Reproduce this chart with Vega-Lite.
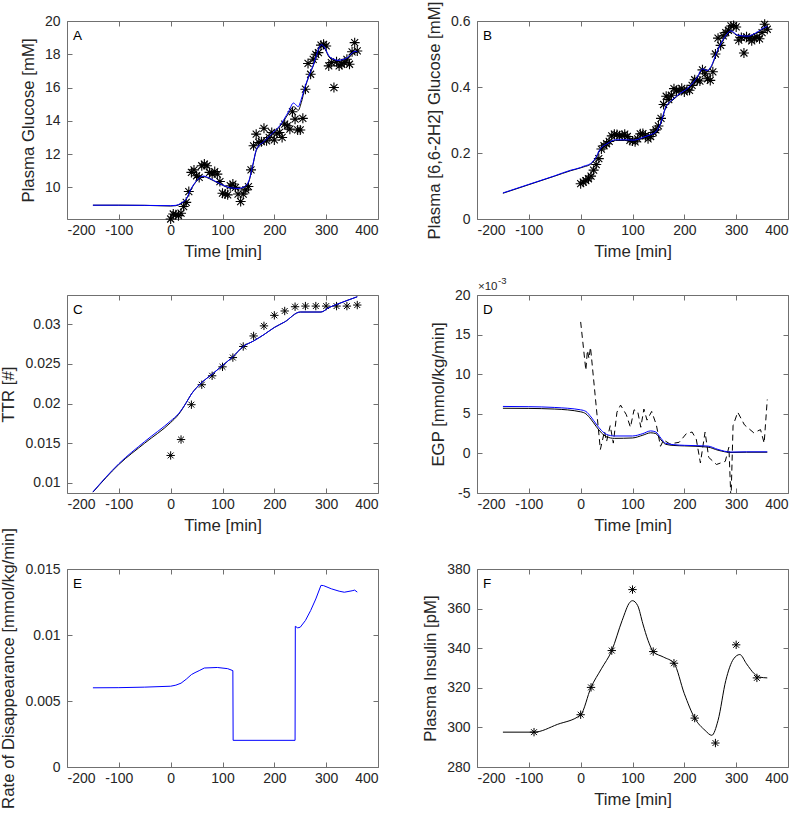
{
  "$schema": "https://vega.github.io/schema/vega-lite/v6.json",
  "padding": {"left": 0, "top": 0, "right": 5, "bottom": 5},
  "background": "white",
  "bounds": "flush",
  "columns": 2,
  "spacing": {"row": 76, "column": 99},
  "config": {
    "font": "Liberation Sans",
    "view": {"stroke": "#707070", "strokeWidth": 1},
    "axis": {
      "labelFont": "Liberation Sans", "labelFontSize": 14, "labelColor": "#262626",
      "titleFont": "Liberation Sans", "titleFontSize": 16.8, "titleFontWeight": "normal", "titleColor": "#262626",
      "grid": false, "domain": false, "tickColor": "#707070", "tickSize": -5, "tickWidth": 1
    },
    "axisX": {"labelPadding": 9, "titlePadding": 6},
    "axisY": {"labelPadding": 12, "titlePadding": 7}
  },
  "datasets": {
    "aFit": [
      {"t":-150,"v":8.93,"s":"M2"},{"t":-100,"v":8.93,"s":"M2"},{"t":-50,"v":8.92,"s":"M2"},{"t":0,"v":8.88,"s":"M2"},{"t":10,"v":8.9,"s":"M2"},{"t":20,"v":9.02,"s":"M2"},{"t":30,"v":9.28,"s":"M2"},{"t":40,"v":9.92,"s":"M2"},{"t":50,"v":10.37,"s":"M2"},{"t":63,"v":10.65,"s":"M2"},{"t":75,"v":10.52,"s":"M2"},{"t":95,"v":10.2,"s":"M2"},{"t":115,"v":9.95,"s":"M2"},{"t":130,"v":9.9,"s":"M2"},{"t":140,"v":9.96,"s":"M2"},{"t":150,"v":10.28,"s":"M2"},{"t":158,"v":11.25,"s":"M2"},{"t":166,"v":12.28,"s":"M2"},{"t":180,"v":12.72,"s":"M2"},{"t":192,"v":13.1,"s":"M2"},{"t":211,"v":13.68,"s":"M2"},{"t":227,"v":14.42,"s":"M2"},{"t":237,"v":14.85,"s":"M2"},{"t":242,"v":14.75,"s":"M2"},{"t":246,"v":14.62,"s":"M2"},{"t":252,"v":15.1,"s":"M2"},{"t":259,"v":15.95,"s":"M2"},{"t":275,"v":17.3,"s":"M2"},{"t":291,"v":18.5,"s":"M2"},{"t":296,"v":18.4,"s":"M2"},{"t":307,"v":17.78,"s":"M2"},{"t":323,"v":17.58,"s":"M2"},{"t":340,"v":17.72,"s":"M2"},{"t":356,"v":18.12,"s":"M2"},{"t":360,"v":18.1,"s":"M2"},
      {"t":-150,"v":8.93,"s":"M1"},{"t":-100,"v":8.93,"s":"M1"},{"t":-50,"v":8.92,"s":"M1"},{"t":0,"v":8.9,"s":"M1"},{"t":10,"v":8.92,"s":"M1"},{"t":20,"v":9.05,"s":"M1"},{"t":30,"v":9.3,"s":"M1"},{"t":40,"v":9.95,"s":"M1"},{"t":50,"v":10.4,"s":"M1"},{"t":63,"v":10.68,"s":"M1"},{"t":75,"v":10.55,"s":"M1"},{"t":95,"v":10.22,"s":"M1"},{"t":115,"v":9.98,"s":"M1"},{"t":130,"v":9.94,"s":"M1"},{"t":140,"v":10.0,"s":"M1"},{"t":150,"v":10.32,"s":"M1"},{"t":158,"v":11.3,"s":"M1"},{"t":166,"v":12.33,"s":"M1"},{"t":180,"v":12.75,"s":"M1"},{"t":192,"v":13.13,"s":"M1"},{"t":211,"v":13.73,"s":"M1"},{"t":227,"v":14.53,"s":"M1"},{"t":237,"v":15.07,"s":"M1"},{"t":242,"v":14.95,"s":"M1"},{"t":246,"v":14.85,"s":"M1"},{"t":252,"v":15.3,"s":"M1"},{"t":259,"v":16.03,"s":"M1"},{"t":275,"v":17.34,"s":"M1"},{"t":291,"v":18.58,"s":"M1"},{"t":296,"v":18.45,"s":"M1"},{"t":307,"v":17.84,"s":"M1"},{"t":323,"v":17.64,"s":"M1"},{"t":340,"v":17.78,"s":"M1"},{"t":356,"v":18.18,"s":"M1"},{"t":360,"v":18.15,"s":"M1"}
    ],
    "aObs": [
      {"t":0,"v":8.1},{"t":5,"v":8.4},{"t":10,"v":8.35},{"t":15,"v":8.3},{"t":20,"v":8.45},{"t":25,"v":8.85},{"t":30,"v":9.1},{"t":35,"v":9.75},{"t":40,"v":10.9},{"t":45,"v":11.05},{"t":50,"v":10.7},{"t":55,"v":10.6},{"t":60,"v":11.3},{"t":65,"v":11.4},{"t":70,"v":11.3},{"t":75,"v":10.9},{"t":80,"v":10.8},{"t":85,"v":10.95},{"t":90,"v":10.8},{"t":95,"v":10.35},{"t":100,"v":9.65},{"t":105,"v":9.6},{"t":110,"v":9.55},{"t":115,"v":10.1},{"t":120,"v":10.2},{"t":125,"v":10.0},{"t":130,"v":9.6},{"t":135,"v":9.15},{"t":140,"v":9.6},{"t":145,"v":9.85},{"t":150,"v":10.05},{"t":155,"v":11.05},{"t":160,"v":12.5},{"t":165,"v":13.2},{"t":170,"v":12.7},{"t":175,"v":12.75},{"t":180,"v":13.55},{"t":185,"v":12.8},{"t":190,"v":13.0},{"t":195,"v":13.3},{"t":200,"v":12.85},{"t":205,"v":13.25},{"t":210,"v":13.3},{"t":215,"v":13.0},{"t":220,"v":13.8},{"t":225,"v":13.7},{"t":230,"v":13.5},{"t":235,"v":14.55},{"t":240,"v":14.1},{"t":245,"v":13.45},{"t":250,"v":13.45},{"t":255,"v":14.15},{"t":260,"v":15.9},{"t":265,"v":17.45},{"t":270,"v":16.8},{"t":275,"v":17.7},{"t":280,"v":18.0},{"t":285,"v":18.1},{"t":290,"v":18.55},{"t":295,"v":18.6},{"t":300,"v":18.5},{"t":305,"v":17.3},{"t":310,"v":17.5},{"t":315,"v":16.0},{"t":320,"v":17.55},{"t":325,"v":17.3},{"t":330,"v":17.4},{"t":335,"v":17.5},{"t":340,"v":17.7},{"t":345,"v":17.4},{"t":350,"v":18.15},{"t":355,"v":18.7},{"t":360,"v":18.2}
    ],
    "bFit": [
      {"t":-150,"v":0.078,"s":"M2"},{"t":-100,"v":0.104,"s":"M2"},{"t":-50,"v":0.13,"s":"M2"},{"t":-20,"v":0.146,"s":"M2"},{"t":0,"v":0.155,"s":"M2"},{"t":6,"v":0.158,"s":"M2"},{"t":19,"v":0.166,"s":"M2"},{"t":28,"v":0.181,"s":"M2"},{"t":38,"v":0.211,"s":"M2"},{"t":51,"v":0.226,"s":"M2"},{"t":67,"v":0.238,"s":"M2"},{"t":85,"v":0.238,"s":"M2"},{"t":103,"v":0.237,"s":"M2"},{"t":120,"v":0.245,"s":"M2"},{"t":132,"v":0.252,"s":"M2"},{"t":145,"v":0.262,"s":"M2"},{"t":154,"v":0.287,"s":"M2"},{"t":164,"v":0.337,"s":"M2"},{"t":176,"v":0.358,"s":"M2"},{"t":187,"v":0.373,"s":"M2"},{"t":209,"v":0.398,"s":"M2"},{"t":225,"v":0.428,"s":"M2"},{"t":235,"v":0.452,"s":"M2"},{"t":244,"v":0.447,"s":"M2"},{"t":251,"v":0.458,"s":"M2"},{"t":264,"v":0.509,"s":"M2"},{"t":278,"v":0.549,"s":"M2"},{"t":290,"v":0.568,"s":"M2"},{"t":303,"v":0.555,"s":"M2"},{"t":322,"v":0.552,"s":"M2"},{"t":338,"v":0.562,"s":"M2"},{"t":357,"v":0.58,"s":"M2"},{"t":360,"v":0.581,"s":"M2"},
      {"t":-150,"v":0.079,"s":"M1"},{"t":-100,"v":0.105,"s":"M1"},{"t":-50,"v":0.131,"s":"M1"},{"t":-20,"v":0.1475,"s":"M1"},{"t":0,"v":0.156,"s":"M1"},{"t":6,"v":0.16,"s":"M1"},{"t":19,"v":0.168,"s":"M1"},{"t":28,"v":0.183,"s":"M1"},{"t":38,"v":0.213,"s":"M1"},{"t":51,"v":0.228,"s":"M1"},{"t":67,"v":0.24,"s":"M1"},{"t":85,"v":0.24,"s":"M1"},{"t":103,"v":0.239,"s":"M1"},{"t":120,"v":0.247,"s":"M1"},{"t":132,"v":0.254,"s":"M1"},{"t":145,"v":0.264,"s":"M1"},{"t":154,"v":0.289,"s":"M1"},{"t":164,"v":0.339,"s":"M1"},{"t":176,"v":0.36,"s":"M1"},{"t":187,"v":0.375,"s":"M1"},{"t":209,"v":0.4,"s":"M1"},{"t":225,"v":0.43,"s":"M1"},{"t":235,"v":0.455,"s":"M1"},{"t":244,"v":0.45,"s":"M1"},{"t":251,"v":0.461,"s":"M1"},{"t":264,"v":0.511,"s":"M1"},{"t":278,"v":0.551,"s":"M1"},{"t":290,"v":0.57,"s":"M1"},{"t":303,"v":0.557,"s":"M1"},{"t":322,"v":0.554,"s":"M1"},{"t":338,"v":0.564,"s":"M1"},{"t":357,"v":0.582,"s":"M1"},{"t":360,"v":0.583,"s":"M1"}
    ],
    "bObs": [
      {"t":0,"v":0.107},{"t":5,"v":0.112},{"t":10,"v":0.116},{"t":15,"v":0.122},{"t":20,"v":0.13},{"t":25,"v":0.148},{"t":30,"v":0.165},{"t":35,"v":0.183},{"t":40,"v":0.212},{"t":45,"v":0.222},{"t":50,"v":0.228},{"t":55,"v":0.235},{"t":60,"v":0.252},{"t":65,"v":0.257},{"t":70,"v":0.256},{"t":75,"v":0.252},{"t":80,"v":0.253},{"t":85,"v":0.257},{"t":90,"v":0.25},{"t":95,"v":0.238},{"t":100,"v":0.236},{"t":105,"v":0.234},{"t":110,"v":0.243},{"t":115,"v":0.258},{"t":120,"v":0.259},{"t":125,"v":0.252},{"t":130,"v":0.243},{"t":135,"v":0.25},{"t":140,"v":0.262},{"t":145,"v":0.27},{"t":150,"v":0.282},{"t":155,"v":0.305},{"t":160,"v":0.347},{"t":165,"v":0.372},{"t":170,"v":0.362},{"t":175,"v":0.375},{"t":180,"v":0.395},{"t":185,"v":0.388},{"t":190,"v":0.39},{"t":195,"v":0.396},{"t":200,"v":0.385},{"t":205,"v":0.392},{"t":210,"v":0.39},{"t":215,"v":0.405},{"t":220,"v":0.422},{"t":225,"v":0.42},{"t":230,"v":0.418},{"t":235,"v":0.452},{"t":240,"v":0.44},{"t":245,"v":0.425},{"t":250,"v":0.42},{"t":255,"v":0.446},{"t":260,"v":0.5},{"t":265,"v":0.548},{"t":270,"v":0.526},{"t":275,"v":0.555},{"t":280,"v":0.565},{"t":285,"v":0.572},{"t":290,"v":0.585},{"t":295,"v":0.586},{"t":300,"v":0.582},{"t":305,"v":0.542},{"t":310,"v":0.55},{"t":315,"v":0.503},{"t":320,"v":0.552},{"t":325,"v":0.546},{"t":330,"v":0.54},{"t":335,"v":0.548},{"t":340,"v":0.552},{"t":345,"v":0.546},{"t":350,"v":0.565},{"t":355,"v":0.59},{"t":360,"v":0.575}
    ],
    "cFit": [
      {"t":-150,"v":0.0088,"s":"M2"},{"t":-100,"v":0.0123,"s":"M2"},{"t":-50,"v":0.015,"s":"M2"},{"t":0,"v":0.0176,"s":"M2"},{"t":15,"v":0.0186,"s":"M2"},{"t":30,"v":0.0201,"s":"M2"},{"t":40,"v":0.0212,"s":"M2"},{"t":50,"v":0.022,"s":"M2"},{"t":60,"v":0.02266,"s":"M2"},{"t":80,"v":0.0237,"s":"M2"},{"t":100,"v":0.0248,"s":"M2"},{"t":120,"v":0.0259,"s":"M2"},{"t":140,"v":0.0272,"s":"M2"},{"t":160,"v":0.0279,"s":"M2"},{"t":180,"v":0.0287,"s":"M2"},{"t":200,"v":0.0296,"s":"M2"},{"t":220,"v":0.0303,"s":"M2"},{"t":250,"v":0.03155,"s":"M2"},{"t":290,"v":0.03155,"s":"M2"},{"t":305,"v":0.0321,"s":"M2"},{"t":320,"v":0.0325,"s":"M2"},{"t":340,"v":0.033,"s":"M2"},{"t":360,"v":0.03348,"s":"M2"},
      {"t":-150,"v":0.00885,"s":"M1"},{"t":-100,"v":0.0124,"s":"M1"},{"t":-50,"v":0.0152,"s":"M1"},{"t":0,"v":0.0178,"s":"M1"},{"t":15,"v":0.0187,"s":"M1"},{"t":30,"v":0.0201,"s":"M1"},{"t":40,"v":0.0212,"s":"M1"},{"t":50,"v":0.022,"s":"M1"},{"t":60,"v":0.02266,"s":"M1"},{"t":80,"v":0.0237,"s":"M1"},{"t":100,"v":0.0248,"s":"M1"},{"t":120,"v":0.0259,"s":"M1"},{"t":140,"v":0.0272,"s":"M1"},{"t":160,"v":0.0279,"s":"M1"},{"t":180,"v":0.0287,"s":"M1"},{"t":200,"v":0.0296,"s":"M1"},{"t":220,"v":0.0303,"s":"M1"},{"t":250,"v":0.03155,"s":"M1"},{"t":290,"v":0.03155,"s":"M1"},{"t":305,"v":0.0321,"s":"M1"},{"t":320,"v":0.0325,"s":"M1"},{"t":340,"v":0.033,"s":"M1"},{"t":360,"v":0.03348,"s":"M1"}
    ],
    "cObs": [
      {"t":0,"v":0.01344},{"t":20,"v":0.01545},{"t":40,"v":0.01985},{"t":60,"v":0.02237},{"t":80,"v":0.0235},{"t":100,"v":0.02463},{"t":120,"v":0.0258},{"t":140,"v":0.0272},{"t":160,"v":0.02853},{"t":180,"v":0.0298},{"t":200,"v":0.03113},{"t":220,"v":0.03168},{"t":240,"v":0.03222},{"t":260,"v":0.0323},{"t":280,"v":0.0323},{"t":300,"v":0.0323},{"t":320,"v":0.0323},{"t":340,"v":0.0323},{"t":360,"v":0.03243}
    ],
    "dFit": [
      {"t":-150,"v":0.0057,"s":"M2"},{"t":-100,"v":0.00568,"s":"M2"},{"t":-50,"v":0.0056,"s":"M2"},{"t":0,"v":0.00525,"s":"M2"},{"t":10,"v":0.005,"s":"M2"},{"t":20,"v":0.0043,"s":"M2"},{"t":30,"v":0.0034,"s":"M2"},{"t":40,"v":0.0026,"s":"M2"},{"t":50,"v":0.0021,"s":"M2"},{"t":65,"v":0.0019,"s":"M2"},{"t":100,"v":0.00195,"s":"M2"},{"t":120,"v":0.0023,"s":"M2"},{"t":135,"v":0.0026,"s":"M2"},{"t":145,"v":0.0025,"s":"M2"},{"t":155,"v":0.0017,"s":"M2"},{"t":164,"v":0.00115,"s":"M2"},{"t":180,"v":0.001,"s":"M2"},{"t":200,"v":0.00095,"s":"M2"},{"t":245,"v":0.0008,"s":"M2"},{"t":265,"v":0.0004,"s":"M2"},{"t":290,"v":0.00012,"s":"M2"},{"t":320,"v":0.00015,"s":"M2"},{"t":360,"v":0.00015,"s":"M2"},
      {"t":-150,"v":0.00593,"s":"M1"},{"t":-100,"v":0.0059,"s":"M1"},{"t":-50,"v":0.0058,"s":"M1"},{"t":0,"v":0.0055,"s":"M1"},{"t":10,"v":0.0053,"s":"M1"},{"t":20,"v":0.0046,"s":"M1"},{"t":30,"v":0.0037,"s":"M1"},{"t":40,"v":0.0029,"s":"M1"},{"t":50,"v":0.0024,"s":"M1"},{"t":65,"v":0.0022,"s":"M1"},{"t":100,"v":0.0022,"s":"M1"},{"t":120,"v":0.0025,"s":"M1"},{"t":135,"v":0.00284,"s":"M1"},{"t":145,"v":0.0027,"s":"M1"},{"t":155,"v":0.0019,"s":"M1"},{"t":164,"v":0.00127,"s":"M1"},{"t":180,"v":0.0011,"s":"M1"},{"t":200,"v":0.00102,"s":"M1"},{"t":245,"v":0.00093,"s":"M1"},{"t":265,"v":0.0005,"s":"M1"},{"t":290,"v":0.00017,"s":"M1"},{"t":320,"v":0.0002,"s":"M1"},{"t":360,"v":0.0002,"s":"M1"}
    ],
    "dEst": [
      {"t":0,"v":0.0166},{"t":10,"v":0.0105},{"t":13,"v":0.013},{"t":16,"v":0.012},{"t":19,"v":0.0134},{"t":38,"v":0.0005},{"t":46,"v":0.0028},{"t":50,"v":0.0015},{"t":57,"v":0.0035},{"t":63,"v":0.0013},{"t":70,"v":0.0052},{"t":77,"v":0.0061},{"t":88,"v":0.0049},{"t":96,"v":0.0033},{"t":103,"v":0.0055},{"t":110,"v":0.0053},{"t":116,"v":0.0033},{"t":122,"v":0.0056},{"t":128,"v":0.0042},{"t":137,"v":0.0053},{"t":146,"v":0.0036},{"t":154,"v":0.0009},{"t":160,"v":0.0017},{"t":172,"v":0.0012},{"t":190,"v":0.0014},{"t":204,"v":0.0025},{"t":215,"v":0.0027},{"t":223,"v":0.0018},{"t":231,"v":-0.0012},{"t":240,"v":0.0027},{"t":247,"v":-0.0005},{"t":262,"v":-0.0014},{"t":279,"v":-0.001},{"t":286,"v":0.0008},{"t":290,"v":-0.006},{"t":294,"v":0.0035},{"t":303,"v":0.0052},{"t":316,"v":0.0036},{"t":334,"v":0.0026},{"t":347,"v":0.003},{"t":354,"v":0.0013},{"t":360,"v":0.0068}
    ],
    "eFit": [
      {"t":-150,"v":0.006},{"t":-100,"v":0.00601},{"t":-50,"v":0.00605},{"t":0,"v":0.00612},{"t":10,"v":0.0062},{"t":20,"v":0.00635},{"t":30,"v":0.00665},{"t":40,"v":0.007},{"t":47,"v":0.00715},{"t":55,"v":0.0073},{"t":65,"v":0.0075},{"t":90,"v":0.00754},{"t":110,"v":0.00745},{"t":120,"v":0.0073},{"t":120.5,"v":0.00202},{"t":240,"v":0.00202},{"t":240.5,"v":0.01066},{"t":245,"v":0.01054},{"t":250,"v":0.01059},{"t":260,"v":0.0111},{"t":270,"v":0.01185},{"t":280,"v":0.01273},{"t":290,"v":0.01376},{"t":295,"v":0.01374},{"t":310,"v":0.0135},{"t":325,"v":0.01332},{"t":335,"v":0.01324},{"t":350,"v":0.01335},{"t":355,"v":0.0134},{"t":360,"v":0.01325}
    ],
    "fFit": [
      {"t":-150,"v":297.6},{"t":-90,"v":297.6},{"t":-45,"v":301.5},{"t":0,"v":306.4},{"t":20,"v":320.2},{"t":40,"v":329.6},{"t":60,"v":338.8},{"t":80,"v":354},{"t":95,"v":363.2},{"t":100,"v":364},{"t":110,"v":361.5},{"t":120,"v":352.3},{"t":130,"v":343.9},{"t":140,"v":338.3},{"t":160,"v":335.5},{"t":180,"v":332.4},{"t":200,"v":317},{"t":220,"v":304.7},{"t":240,"v":298.5},{"t":253,"v":296},{"t":265,"v":303.5},{"t":280,"v":323.7},{"t":295,"v":334.6},{"t":307,"v":336.8},{"t":320,"v":332.1},{"t":335,"v":327.1},{"t":345,"v":325.4},{"t":360,"v":325.0}
    ],
    "fObs": [
      {"t":-90,"v":297.6},{"t":0,"v":306.4},{"t":20,"v":320.2},{"t":60,"v":338.8},{"t":100,"v":369.6},{"t":140,"v":338.3},{"t":180,"v":332.4},{"t":220,"v":304.7},{"t":260,"v":292.1},{"t":300,"v":341.7},{"t":340,"v":325.0}
    ]
  },
  "concat": [
    {
      "width": 311, "height": 198,
      "layer": [
        {"data": {"name": "aObs"},
         "mark": {"type": "point", "shape": "M-1,0H1M0,-1V1M-0.7,-0.7L0.7,0.7M-0.7,0.7L0.7,-0.7", "filled": false, "color": "#000000", "strokeWidth": 1.1, "size": 100, "opacity": 1},
         "encoding": {
           "x": {"field": "t", "type": "quantitative", "scale": {"domain": [-200, 400], "nice": false, "zero": false}, "axis": null},
           "y": {"field": "v", "type": "quantitative", "scale": {"domain": [8.1, 20], "nice": false, "zero": false}, "axis": null}}},
        {"data": {"name": "aFit"},
         "mark": {"type": "line", "strokeWidth": 1, "interpolate": "monotone", "clip": true},
         "encoding": {
           "x": {"field": "t", "type": "quantitative", "scale": {"domain": [-200, 400], "nice": false, "zero": false}, "axis": {"values": [-200,-100,0,100,200,300,400], "labelExpr": "'' + datum.value", "title": "Time [min]"}},
           "y": {"field": "v", "type": "quantitative", "scale": {"domain": [8.1, 20], "nice": false, "zero": false}, "axis": {"values": [10,12,14,16,18,20], "labelExpr": "'' + datum.value", "title": "Plasma Glucose [mM]"}},
           "color": {"field": "s", "type": "nominal", "scale": {"domain": ["M1","M2"], "range": ["#0000ff","#000000"]}, "legend": null}}},
        {"data": {"values": [{}]},
         "mark": {"type": "text", "text": "A", "align": "left", "baseline": "top", "dx": 6, "dy": 8, "fontSize": 13.5, "color": "#000000"},
         "encoding": {
           "x": {"datum": -200, "type": "quantitative", "scale": {"domain": [-200, 400], "nice": false, "zero": false}, "axis": {"orient": "top", "values": [-200,-100,0,100,200,300,400], "labels": false, "title": null}},
           "y": {"datum": 20, "type": "quantitative", "scale": {"domain": [8.1, 20], "nice": false, "zero": false}, "axis": {"orient": "right", "values": [10,12,14,16,18,20], "labels": false, "title": null}}}}
      ],
      "resolve": {"axis": {"x": "independent", "y": "independent"}}
    },
    {
      "width": 311, "height": 198,
      "layer": [
        {"data": {"name": "bObs"},
         "mark": {"type": "point", "shape": "M-1,0H1M0,-1V1M-0.7,-0.7L0.7,0.7M-0.7,0.7L0.7,-0.7", "filled": false, "color": "#000000", "strokeWidth": 1.1, "size": 100, "opacity": 1},
         "encoding": {
           "x": {"field": "t", "type": "quantitative", "scale": {"domain": [-200, 400], "nice": false, "zero": false}, "axis": null},
           "y": {"field": "v", "type": "quantitative", "scale": {"domain": [0, 0.6], "nice": false, "zero": false}, "axis": null}}},
        {"data": {"name": "bFit"},
         "mark": {"type": "line", "strokeWidth": 1, "interpolate": "monotone", "clip": true},
         "encoding": {
           "x": {"field": "t", "type": "quantitative", "scale": {"domain": [-200, 400], "nice": false, "zero": false}, "axis": {"values": [-200,-100,0,100,200,300,400], "labelExpr": "'' + datum.value", "title": "Time [min]"}},
           "y": {"field": "v", "type": "quantitative", "scale": {"domain": [0, 0.6], "nice": false, "zero": false}, "axis": {"values": [0,0.2,0.4,0.6], "labelExpr": "'' + datum.value", "title": "Plasma [6,6-2H2] Glucose [mM]"}},
           "color": {"field": "s", "type": "nominal", "scale": {"domain": ["M1","M2"], "range": ["#0000ff","#000000"]}, "legend": null}}},
        {"data": {"values": [{}]},
         "mark": {"type": "text", "text": "B", "align": "left", "baseline": "top", "dx": 6, "dy": 8, "fontSize": 13.5, "color": "#000000"},
         "encoding": {
           "x": {"datum": -200, "type": "quantitative", "scale": {"domain": [-200, 400], "nice": false, "zero": false}, "axis": {"orient": "top", "values": [-200,-100,0,100,200,300,400], "labels": false, "title": null}},
           "y": {"datum": 0.6, "type": "quantitative", "scale": {"domain": [0, 0.6], "nice": false, "zero": false}, "axis": {"orient": "right", "values": [0,0.2,0.4,0.6], "labels": false, "title": null}}}}
      ],
      "resolve": {"axis": {"x": "independent", "y": "independent"}}
    },
    {
      "width": 311, "height": 198,
      "layer": [
        {"data": {"name": "cObs"},
         "mark": {"type": "point", "shape": "M-1,0H1M0,-1V1M-0.7,-0.7L0.7,0.7M-0.7,0.7L0.7,-0.7", "filled": false, "color": "#000000", "strokeWidth": 1, "size": 70, "opacity": 1},
         "encoding": {
           "x": {"field": "t", "type": "quantitative", "scale": {"domain": [-200, 400], "nice": false, "zero": false}, "axis": null},
           "y": {"field": "v", "type": "quantitative", "scale": {"domain": [0.0087, 0.0337], "nice": false, "zero": false}, "axis": null}}},
        {"data": {"name": "cFit"},
         "mark": {"type": "line", "strokeWidth": 1, "interpolate": "monotone", "clip": true},
         "encoding": {
           "x": {"field": "t", "type": "quantitative", "scale": {"domain": [-200, 400], "nice": false, "zero": false}, "axis": {"values": [-200,-100,0,100,200,300,400], "labelExpr": "'' + datum.value", "title": "Time [min]"}},
           "y": {"field": "v", "type": "quantitative", "scale": {"domain": [0.0087, 0.0337], "nice": false, "zero": false}, "axis": {"values": [0.01,0.015,0.02,0.025,0.03], "labelExpr": "'' + datum.value", "title": "TTR [#]"}},
           "color": {"field": "s", "type": "nominal", "scale": {"domain": ["M1","M2"], "range": ["#0000ff","#000000"]}, "legend": null}}},
        {"data": {"values": [{}]},
         "mark": {"type": "text", "text": "C", "align": "left", "baseline": "top", "dx": 6, "dy": 8, "fontSize": 13.5, "color": "#000000"},
         "encoding": {
           "x": {"datum": -200, "type": "quantitative", "scale": {"domain": [-200, 400], "nice": false, "zero": false}, "axis": {"orient": "top", "values": [-200,-100,0,100,200,300,400], "labels": false, "title": null}},
           "y": {"datum": 0.0337, "type": "quantitative", "scale": {"domain": [0.0087, 0.0337], "nice": false, "zero": false}, "axis": {"orient": "right", "values": [0.01,0.015,0.02,0.025,0.03], "labels": false, "title": null}}}}
      ],
      "resolve": {"axis": {"x": "independent", "y": "independent"}}
    },
    {
      "width": 311, "height": 198,
      "layer": [
        {"data": {"name": "dEst"},
         "mark": {"type": "line", "strokeWidth": 1, "color": "#000000", "strokeDash": [6, 4], "clip": true},
         "encoding": {
           "x": {"field": "t", "type": "quantitative", "scale": {"domain": [-200, 400], "nice": false, "zero": false}, "axis": null},
           "y": {"field": "v", "type": "quantitative", "scale": {"domain": [-0.005, 0.02], "nice": false, "zero": false}, "axis": null}}},
        {"data": {"name": "dFit"},
         "mark": {"type": "line", "strokeWidth": 1, "interpolate": "monotone", "clip": true},
         "encoding": {
           "x": {"field": "t", "type": "quantitative", "scale": {"domain": [-200, 400], "nice": false, "zero": false}, "axis": {"values": [-200,-100,0,100,200,300,400], "labelExpr": "'' + datum.value", "title": "Time [min]"}},
           "y": {"field": "v", "type": "quantitative", "scale": {"domain": [-0.005, 0.02], "nice": false, "zero": false}, "axis": {"values": [-0.005,0,0.005,0.01,0.015,0.02], "labelExpr": "'' + round(datum.value*1000)", "title": "EGP [mmol/kg/min]"}},
           "color": {"field": "s", "type": "nominal", "scale": {"domain": ["M1","M2"], "range": ["#0000ff","#000000"]}, "legend": null}}},
        {"data": {"values": [{}]},
         "mark": {"type": "text", "text": "D", "align": "left", "baseline": "top", "dx": 6, "dy": 8, "fontSize": 13.5, "color": "#000000"},
         "encoding": {
           "x": {"datum": -200, "type": "quantitative", "scale": {"domain": [-200, 400], "nice": false, "zero": false}, "axis": {"orient": "top", "values": [-200,-100,0,100,200,300,400], "labels": false, "title": null}},
           "y": {"datum": 0.02, "type": "quantitative", "scale": {"domain": [-0.005, 0.02], "nice": false, "zero": false}, "axis": {"orient": "right", "values": [-0.005,0,0.005,0.01,0.015,0.02], "labels": false, "title": null}}}},
        {"data": {"values": [{}]},
         "mark": {"type": "text", "text": "×10", "align": "left", "baseline": "alphabetic", "dx": 1, "dy": -5, "fontSize": 11.5, "color": "#262626"},
         "encoding": {
           "x": {"datum": -200, "type": "quantitative", "axis": null},
           "y": {"datum": 0.02, "type": "quantitative", "axis": null}}},
        {"data": {"values": [{}]},
         "mark": {"type": "text", "text": "-3", "align": "left", "baseline": "alphabetic", "dx": 21, "dy": -11, "fontSize": 9.5, "color": "#262626"},
         "encoding": {
           "x": {"datum": -200, "type": "quantitative", "axis": null},
           "y": {"datum": 0.02, "type": "quantitative", "axis": null}}}
      ],
      "resolve": {"axis": {"x": "independent", "y": "independent"}}
    },
    {
      "width": 311, "height": 198,
      "layer": [
        {"data": {"name": "eFit"},
         "mark": {"type": "line", "strokeWidth": 1, "color": "#0000ff", "clip": true},
         "encoding": {
           "x": {"field": "t", "type": "quantitative", "scale": {"domain": [-200, 400], "nice": false, "zero": false}, "axis": {"values": [-200,-100,0,100,200,300,400], "labelExpr": "'' + datum.value", "title": null}},
           "y": {"field": "v", "type": "quantitative", "scale": {"domain": [0, 0.015], "nice": false, "zero": false}, "axis": {"values": [0,0.005,0.01,0.015], "labelExpr": "'' + datum.value", "title": "Rate of Disappearance [mmol/kg/min]"}}}},
        {"data": {"values": [{}]},
         "mark": {"type": "text", "text": "E", "align": "left", "baseline": "top", "dx": 6, "dy": 8, "fontSize": 13.5, "color": "#000000"},
         "encoding": {
           "x": {"datum": -200, "type": "quantitative", "scale": {"domain": [-200, 400], "nice": false, "zero": false}, "axis": {"orient": "top", "values": [-200,-100,0,100,200,300,400], "labels": false, "title": null}},
           "y": {"datum": 0.015, "type": "quantitative", "scale": {"domain": [0, 0.015], "nice": false, "zero": false}, "axis": {"orient": "right", "values": [0,0.005,0.01,0.015], "labels": false, "title": null}}}}
      ],
      "resolve": {"axis": {"x": "independent", "y": "independent"}}
    },
    {
      "width": 311, "height": 198,
      "layer": [
        {"data": {"name": "fObs"},
         "mark": {"type": "point", "shape": "M-1,0H1M0,-1V1M-0.7,-0.7L0.7,0.7M-0.7,0.7L0.7,-0.7", "filled": false, "color": "#000000", "strokeWidth": 1, "size": 70, "opacity": 1},
         "encoding": {
           "x": {"field": "t", "type": "quantitative", "scale": {"domain": [-200, 400], "nice": false, "zero": false}, "axis": null},
           "y": {"field": "v", "type": "quantitative", "scale": {"domain": [280, 380], "nice": false, "zero": false}, "axis": null}}},
        {"data": {"name": "fFit"},
         "mark": {"type": "line", "strokeWidth": 1, "color": "#000000", "interpolate": "monotone", "clip": true},
         "encoding": {
           "x": {"field": "t", "type": "quantitative", "scale": {"domain": [-200, 400], "nice": false, "zero": false}, "axis": {"values": [-200,-100,0,100,200,300,400], "labelExpr": "'' + datum.value", "title": "Time [min]"}},
           "y": {"field": "v", "type": "quantitative", "scale": {"domain": [280, 380], "nice": false, "zero": false}, "axis": {"values": [280,300,320,340,360,380], "labelExpr": "'' + datum.value", "title": "Plasma Insulin [pM]"}}}},
        {"data": {"values": [{}]},
         "mark": {"type": "text", "text": "F", "align": "left", "baseline": "top", "dx": 6, "dy": 8, "fontSize": 13.5, "color": "#000000"},
         "encoding": {
           "x": {"datum": -200, "type": "quantitative", "scale": {"domain": [-200, 400], "nice": false, "zero": false}, "axis": {"orient": "top", "values": [-200,-100,0,100,200,300,400], "labels": false, "title": null}},
           "y": {"datum": 380, "type": "quantitative", "scale": {"domain": [280, 380], "nice": false, "zero": false}, "axis": {"orient": "right", "values": [280,300,320,340,360,380], "labels": false, "title": null}}}}
      ],
      "resolve": {"axis": {"x": "independent", "y": "independent"}}
    }
  ]
}
